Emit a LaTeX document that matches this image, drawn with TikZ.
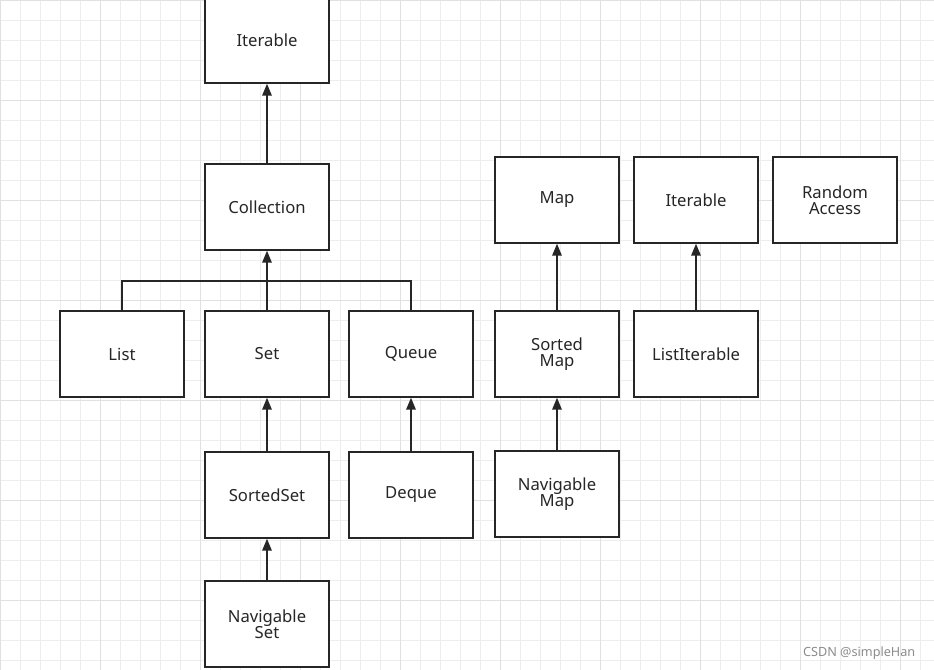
\documentclass[tikz,border=0pt]{standalone}
\usepackage{fontspec}
\setmainfont{Noto Sans}
\usetikzlibrary{arrows.meta}
\begin{document}
\begin{tikzpicture}[x=0.75pt,y=-0.75pt,
 box/.style={draw=black!85,line width=1.5pt,fill=white,minimum width=93pt,minimum height=64pt,inner sep=0pt,align=center,font=\fontsize{12.5}{14}\selectfont,text=black!85},
 arr/.style={draw=black!85,line width=1.5pt,-{Triangle[length=9pt,width=7pt]}},
 ln/.style={draw=black!85,line width=1.5pt}]
\useasboundingbox (0,0) rectangle (934,670);
\fill[white] (0,0) rectangle (934,670);
\foreach \i in {0,...,47} \draw[black!7,line width=0.5pt] (\i*20,0) -- (\i*20,670);
\foreach \i in {0,...,34} \draw[black!7,line width=0.5pt] (0,\i*20) -- (934,\i*20);
\foreach \i in {0,...,9} \draw[black!12,line width=0.6pt] (\i*100+0,0) -- (\i*100,670);
\foreach \i in {0,...,6} \draw[black!12,line width=0.6pt] (0,\i*100) -- (934,\i*100);
\node[box] (it) at (267,40) {Iterable};
\node[box] (col) at (267,207) {Collection};
\node[box] (list) at (122,354) {List};
\node[box] (set) at (267,354) {Set};
\node[box] (queue) at (411,354) {Queue};
\node[box] (map) at (557,200) {Map};
\node[box] (it2) at (696,200) {Iterable};
\node[box] (ra) at (835,200) {Random\\[-2pt]Access};
\node[box] (smap) at (557,354) {Sorted\\[-2pt]Map};
\node[box] (li) at (696,354) {ListIterable};
\node[box] (sset) at (267,495) {SortedSet};
\node[box] (deque) at (411,495) {Deque};
\node[box] (nmap) at (557,494) {Navigable\\[-2pt]Map};
\node[box] (nset) at (267,624) {Navigable\\[-2pt]Set};
\coordinate (j) at (267,281);
\draw[arr] (col) -- (it);
\draw[arr] (set) -- (col);
\draw[ln] (list.north) |- (j) -| (queue.north);
\draw[arr] (smap) -- (map);
\draw[arr] (li) -- (it2);
\draw[arr] (sset) -- (set);
\draw[arr] (deque) -- (queue);
\draw[arr] (nmap) -- (smap);
\draw[arr] (nset) -- (sset);
\node[font=\fontsize{9.5}{11}\selectfont,text=black!45,anchor=east] (wm) at (920,653) {CSDN @simpleHan};
\end{tikzpicture}
\end{document}
